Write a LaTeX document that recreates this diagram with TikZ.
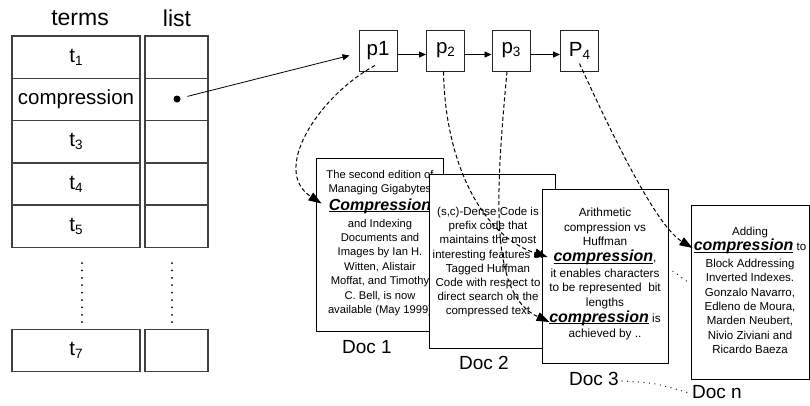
\documentclass[tikz,border=0pt]{standalone}
\usepackage{fontspec}
\setmainfont{Liberation Sans}
\usetikzlibrary{arrows.meta,calc}

% underlined keyword in bold italic
\newcommand\ulword[1]{\setbox0\hbox{#1}\rlap{\rule[-1.9pt]{\wd0}{1.1pt}}\box0\relax}
\newcommand\kw[1]{\ulword{\fontsize{16}{16}\selectfont\bfseries\itshape #1}}
% lowered index digit
\newcommand\idx[1]{\raisebox{-0.15em}{\fontsize{13.5}{13.5}\selectfont #1}}

\begin{document}
\begin{tikzpicture}[x=1pt,y=-1pt,
  cell/.style={draw=black!75, line width=1.5pt, inner sep=0pt, minimum height=42.3pt,
    font=\fontsize{20.5}{20.5}\selectfont},
  tcell/.style={cell, minimum width=128pt},
  lcell/.style={cell, minimum width=63pt},
  head/.style={font=\fontsize{23}{23}\selectfont, inner sep=0pt},
  pbox/.style={draw=black!85, line width=1pt, minimum width=38pt, minimum height=41pt,
    inner sep=0pt, font=\fontsize{20.5}{20.5}\selectfont},
  ptr/.style={line width=0.8pt, -{Triangle[length=7pt,width=6pt]}},
  docbox/.style={draw=black, line width=0.9pt, fill=white, inner sep=0pt},
  doctext/.style={anchor=north, inner sep=0pt, align=center,
    font=\fontsize{11.8}{14.4}\selectfont},
  doclabel/.style={font=\fontsize{19}{19}\selectfont, inner sep=0pt},
  link/.style={line width=1pt, dash pattern=on 4pt off 2.5pt,
    -{Triangle[length=13pt,width=9pt]}},
  dotrow/.style={line width=1.3pt, line cap=round, dash pattern=on 0pt off 5.5pt},
  dotcol/.style={line width=2pt, line cap=round, dash pattern=on 0pt off 7.4pt}
]
\useasboundingbox (0,0) rectangle (810,405);

% ---- term table ----
\node[head] (termshead) at (80,18) {terms};
\node[head] (listhead) at (177,18) {list};

\node[tcell] (t1) at (76,57.15) {t\idx{1}};
\node[tcell] (t2) at (76,99.45) {compression};
\node[tcell] (t3) at (76,141.75) {t\idx{3}};
\node[tcell] (t4) at (76,184.05) {t\idx{4}};
\node[tcell] (t5) at (76,226.35) {t\idx{5}};
\node[tcell] (t7) at (76,350.5) {t\idx{7}};

\node[lcell] (l1) at (176.5,57.15) {};
\node[lcell] (l2) at (176.5,99.45) {};
\node[lcell] (l3) at (176.5,141.75) {};
\node[lcell] (l4) at (176.5,184.05) {};
\node[lcell] (l5) at (176.5,226.35) {};
\node[lcell] (l7) at (176.5,350.5) {};

\coordinate (tdA) at (82,263);
\coordinate (tdB) at (82,323);
\coordinate (ldA) at (172,263);
\coordinate (ldB) at (172,323);
\draw[dotcol] (tdA) -- (tdB);
\draw[dotcol] (ldA) -- (ldB);

\node[circle, fill=black, inner sep=0pt, minimum size=7pt] (bullet) at (177,99) {};

% ---- posting list ----
\node[pbox] (p1) at (378,50.5) {p1};
\node[pbox] (p2) at (445.5,50.5) {p\idx{2}};
\node[pbox] (p3) at (511,50.5) {p\idx{3}};
\node[pbox] (p4) at (579.5,50.5) {P\idx{4}};

\draw[ptr, shorten <=7pt] (bullet) -- ([shift={(-9,5)}]p1.west);
\draw[ptr] ([yshift=-4pt]p1.east) -- ([yshift=-4pt]p2.west);
\draw[ptr] ([yshift=-4pt]p2.east) -- ([yshift=-4pt]p3.west);
\draw[ptr] ([yshift=-4pt]p3.east) -- ([yshift=-4pt]p4.west);

% ---- documents ----
\node[docbox, minimum width=127pt, minimum height=173pt] (d1) at (379.5,244.5) {};
\node[doctext, font=\fontsize{11.2}{14.4}\selectfont] (d1t) at (380,170)
  {The second edition of\\ Managing Gigabytes\\[3pt]
  \kw{Compression}\\[2.5pt] and Indexing\\ Documents and\\ Images by Ian H.\\
  Witten, Alistair\\ Moffat, and Timothy\\ C. Bell, is now\\ available (May 1999)};

\node[docbox, minimum width=126pt, minimum height=174pt] (d2) at (492,261) {};
\node[doctext, font=\fontsize{11.5}{14.2}\selectfont] (d2t) at (488,207)
  {(s,c)-Dense Code is\\ prefix code that\\
  maintains the most\\ interesting features of\\ Tagged Huffman\\
  Code with respect to\\ direct search on the\\ compressed text};

\node[docbox, minimum width=126pt, minimum height=174pt] (d3) at (605,276) {};
\node[doctext] (d3t) at (605,208) {Arithmetic\\ compression vs\\ Huffman\\[2pt]
  \kw{compression},\\[1pt] it enables characters\\ to be represented\ \ bit\\
  lengths\\[2pt] \kw{compression} is\\[1pt] achieved by ..};

\node[docbox, minimum width=118pt, minimum height=174pt] (dn) at (750,292) {};
\node[doctext, font=\fontsize{11.5}{14.4}\selectfont] (dnt) at (750,227)
  {Adding\\[1pt] \kw{compression} to\\[2pt]
  Block Addressing\\ Inverted Indexes.\\ Gonzalo Navarro,\\ Edleno de Moura,\\
  Marden Neubert,\\ Nivio Ziviani and\\ Ricardo Baeza};

\node[doclabel] (lab1) at (367,347) {Doc 1};
\node[doclabel] (lab2) at (484,363) {Doc 2};
\node[doclabel] (lab3) at (594,379) {Doc 3};
\node[doclabel] (labn) at (717,392) {Doc n};

\draw[dotrow] ([yshift=8pt]d3.east) -- ([yshift=8pt]dn.west);
\draw[dotrow] ([xshift=3pt,yshift=-2pt]lab3.east) .. controls (655,383) .. ([xshift=-3pt,yshift=-1pt]labn.west);

% ---- postings pointing into documents ----
\draw[link] ([shift={(-3,-6)}]p1.south) .. controls (320,95) and (270,170) .. ([shift={(6,-41)}]d1.west);
\draw[link] ([shift={(-2,0)}]p2.south) .. controls (445,160) and (480,235) .. ([shift={(6,-19)}]d3.west);
\draw[link] ([shift={(-4,0)}]p3.south) .. controls (495,200) and (490,295) .. ([shift={(8,46)}]d3.west);
\draw[link] ([shift={(0,-8)}]p4.south) .. controls (610,130) and (655,225) .. ([shift={(2,-44)}]dn.west);
\end{tikzpicture}
\end{document}
